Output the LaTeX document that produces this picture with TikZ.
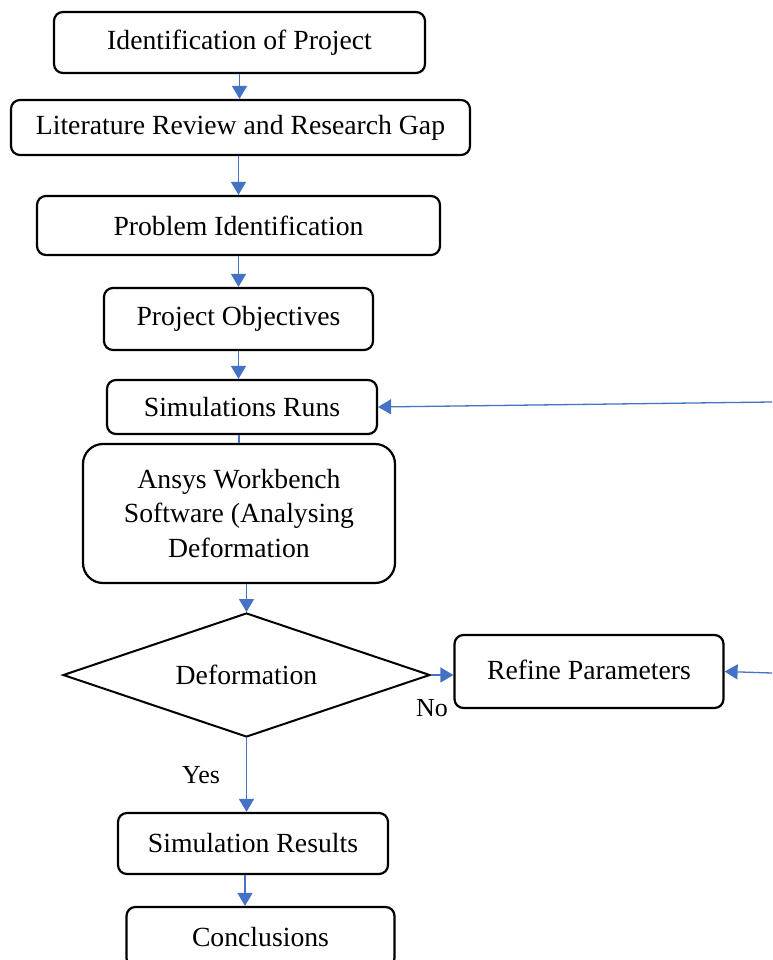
\documentclass[tikz,border=0pt]{standalone}
\usepackage{fontspec}
\setmainfont{Liberation Serif}
\usetikzlibrary{shapes.geometric,arrows.meta,calc}
\definecolor{arrblue}{HTML}{4472C4}
\begin{document}
\begin{tikzpicture}[x=1pt,y=-1pt,
  box/.style={draw, rounded corners=9pt, line width=2.2pt, inner sep=0pt, align=center, font=\fontsize{27.7}{34.5}\selectfont},
  dec/.style={draw, diamond, line width=2pt, inner sep=0pt, aspect=3, font=\fontsize{27.7}{34.5}\selectfont},
  arr/.style={draw=arrblue, line width=1.3pt, -{Triangle[length=13pt,width=15pt]}},
  link/.style={draw=arrblue, line width=1.3pt},
  lbl/.style={font=\fontsize{26}{30}\selectfont, inner sep=0pt}]
\useasboundingbox (0,0) rectangle (772,960);
\fill[white] (0,0) rectangle (772,960);

\node[box, minimum width=371pt, minimum height=61pt] (n1) at (239.5,42.5) {Identification of Project};
\node[box, minimum width=459pt, minimum height=55pt] (n2) at (240.5,127.5) {Literature Review and Research Gap};
\node[box, minimum width=403pt, minimum height=59pt] (n3) at (238.5,225.5) {Problem Identification};
\node[box, minimum width=269pt, minimum height=62pt] (n4) at (238.5,319) {Project Objectives};
\node[box, minimum width=270pt, minimum height=54pt] (n5) at (242,407) {Simulations Runs};
\node[box, minimum width=312pt, minimum height=139pt, rounded corners=20pt] (n6) at (239,513.5) {Ansys Workbench\\Software (Analysing\\Deformation};
\node[dec, minimum width=367pt, minimum height=124pt] (n7) at (246.5,675) {Deformation};
\node[box, minimum width=269pt, minimum height=73pt] (n8) at (589,671.5) {\raisebox{4pt}{Refine Parameters}};
\node[box, minimum width=270pt, minimum height=61pt] (n9) at (253,843.5) {Simulation Results};
\node[box, minimum width=268pt, minimum height=60pt] (n10) at (260.5,937) {Conclusions};

\node[lbl] (no) at (432,708) {No};
\node[lbl] (yes) at (201,775) {Yes};

\coordinate (r1) at (772,402);
\coordinate (r2) at (772,673);

\draw[arr] (n1.south) -- (n1.south |- n2.north);
\draw[arr] (n3.north |- n2.south) -- (n3.north);
\draw[arr] (n4.north |- n3.south) -- (n4.north);
\draw[arr] (n4.south) -- (n4.south |- n5.north);
\draw[link] (n6.north |- n5.south) -- (n6.north);
\draw[arr] (n7.north |- n6.south) -- (n7.north);
\draw[arr] (n7.east) -- (n8.west |- n7.east);
\draw[arr] (n7.south) -- (n7.south |- n9.north);
\draw[arr] ([xshift=-8pt]n9.south) -- ([xshift=-8pt]n9.south |- n10.north);
\draw[arr] (r1) -- (n5.east);
\draw[arr] (r2) -- (n8.east);
\end{tikzpicture}
\end{document}
